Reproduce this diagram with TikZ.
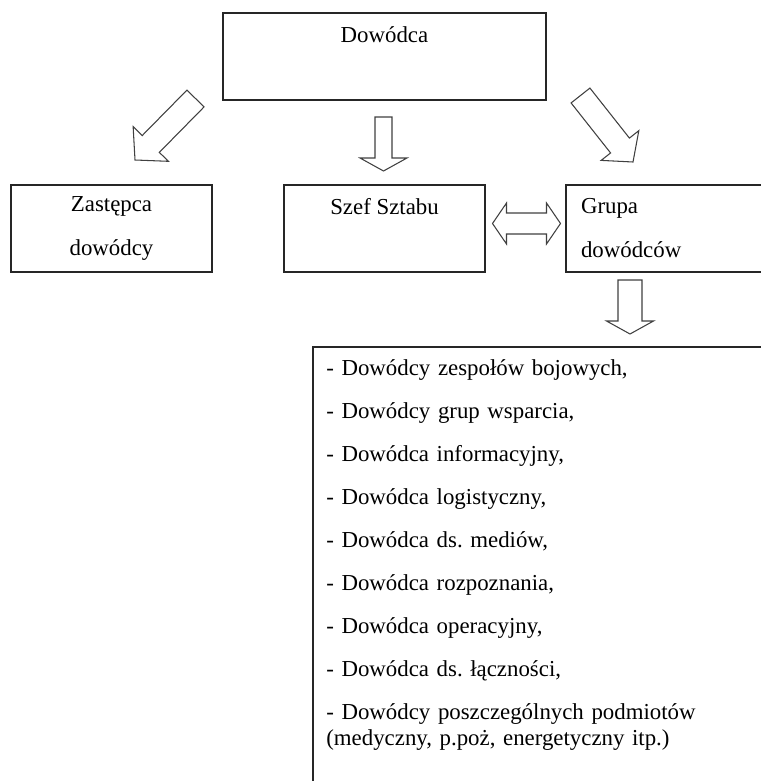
\documentclass[tikz,border=0pt]{standalone}
\usepackage{fontspec}
\setmainfont{Liberation Serif}
\usetikzlibrary{calc}
\frenchspacing

\newcommand{\boxfont}{\fontsize{13pt}{25pt}\selectfont}
\newcommand{\listfont}{\fontsize{13pt}{14.8pt}\selectfont}

\tikzset{
  box/.style={draw=black!85, line width=0.7pt, minimum width=4.02cm,
    minimum height=1.74cm, inner sep=0pt, align=center, font=\boxfont},
  hollow/.style={draw=black!75, line width=0.6pt, fill=white, line join=miter},
  listitem/.style={anchor=base west, inner sep=0pt, text width=8.6cm,
    align=left, font=\listfont}
}

% hollow arrow: tail, tip, half shaft, half head, head length
\newcommand{\blockarrow}[5]{%
  \coordinate (neck) at ($(#2)!#5!(#1)$);
  \draw[hollow]
    ($(#1)!#3!90:(#2)$) -- ($(neck)!#3!90:(#2)$) -- ($(neck)!#4!90:(#2)$)
    -- (#2) -- ($(neck)!#4!-90:(#2)$) -- ($(neck)!#3!-90:(#2)$)
    -- ($(#1)!#3!-90:(#2)$) -- cycle;
}
% hollow arrow with two heads
\newcommand{\twinarrow}[5]{%
  \coordinate (neckA) at ($(#1)!#5!(#2)$);
  \coordinate (neckB) at ($(#2)!#5!(#1)$);
  \draw[hollow]
    (#1) -- ($(neckA)!#4!90:(#2)$) -- ($(neckA)!#3!90:(#2)$)
    -- ($(neckB)!#3!90:(#2)$) -- ($(neckB)!#4!90:(#2)$) -- (#2)
    -- ($(neckB)!#4!-90:(#2)$) -- ($(neckB)!#3!-90:(#2)$)
    -- ($(neckA)!#3!-90:(#2)$) -- ($(neckA)!#4!-90:(#2)$) -- cycle;
}

\begin{document}
\begin{tikzpicture}

  \path[use as bounding box, clip] (0,0) rectangle (15.22,-15.62);

  % ====== BOXES ======
  \node[box, minimum width=6.46cm] (dowodca) at (7.69,-1.13) {Dowódca\\\mbox{}};
  \node[box] (zastepca) at (2.23,-4.57) {Zastępca\\dowódcy};
  \node[box] (szef) at (7.69,-4.57) {Szef Sztabu\\\mbox{}};
  \node[box, align=left, text width=3.42cm, inner xsep=0.3cm] (grupa)
    at (13.33,-4.57) {Grupa\\dowódców};

  % ====== ARROWS ======
  \coordinate (lefttail) at (3.91,-1.97);
  \coordinate (lefttip) at (2.70,-3.20);
  \coordinate (midtail) at (7.67,-2.34);
  \coordinate (midtip) at (7.67,-3.42);
  \coordinate (righttail) at (11.61,-1.91);
  \coordinate (righttip) at (12.66,-3.24);
  \coordinate (twinleft) at (9.85,-4.47);
  \coordinate (twinright) at (11.21,-4.47);
  \coordinate (grupatail) at (12.60,-5.60);
  \coordinate (grupatip) at (12.60,-6.68);

  \blockarrow{lefttail}{lefttip}{0.24cm}{0.495cm}{0.45cm}
  \blockarrow{midtail}{midtip}{0.17cm}{0.47cm}{0.26cm}
  \blockarrow{righttail}{righttip}{0.24cm}{0.48cm}{0.42cm}
  \twinarrow{twinleft}{twinright}{0.21cm}{0.41cm}{0.28cm}
  \blockarrow{grupatail}{grupatip}{0.24cm}{0.47cm}{0.26cm}

  % ====== LIST ======
  \draw[draw=black!85, line width=0.7pt] (6.26,-6.94) rectangle (16,-16);

  \foreach \txt [count=\i] in {
      {- Dowódcy zespołów bojowych,},
      {- Dowódcy grup wsparcia,},
      {- Dowódca informacyjny,},
      {- Dowódca logistyczny,},
      {- Dowódca ds. mediów,},
      {- Dowódca rozpoznania,},
      {- Dowódca operacyjny,},
      {- Dowódca ds. łączności,},
      {- Dowódcy poszczególnych podmiotów\\(medyczny, p.poż, energetyczny itp.)}} {
    \node[listitem] (item\i) at (6.52,{-7.50-0.86*(\i-1)}) {\txt};
  }

\end{tikzpicture}
\end{document}
